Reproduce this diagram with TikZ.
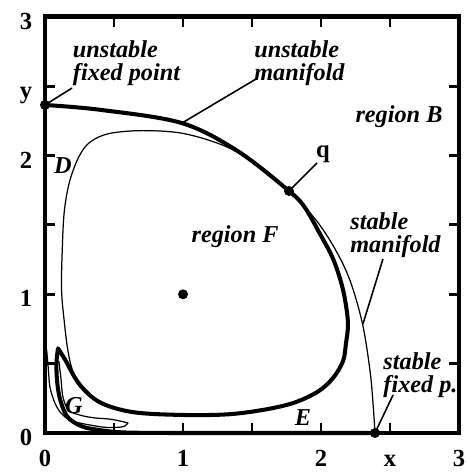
\documentclass[tikz,border=0pt]{standalone}
\usepackage{fontspec}
\setmainfont{Liberation Serif}
\usepackage{tikz}
\usetikzlibrary{positioning}

\begin{document}
\begin{tikzpicture}[
    x=2.76cm, y=2.774cm,
    frame/.style={line width=2.8pt},
    tickmark/.style={line width=1.7pt},
    heavy/.style={line width=2.3pt, line join=round, line cap=round},
    thin/.style={line width=0.7pt},
    lead/.style={line width=0.9pt},
    dot/.style={circle, fill=black, inner sep=0pt, minimum size=2mm},
    num/.style={font=\fontsize{14}{14}\selectfont\bfseries, inner sep=0pt},
    lbl/.style={font=\fontsize{13.8}{13.2}\selectfont\bfseries\itshape, inner sep=0pt, align=left},
  ]
  \useasboundingbox (-0.3261,-0.2812) rectangle (3.0652,3.1218);

  % ===== frame and ticks =====
  \draw[frame] (0,0) rectangle (3,3);
  \foreach \t in {0.5,1,1.5,2,2.5} {
    \draw[tickmark] (\t,0) -- ++(0,0.072);
    \draw[tickmark] (\t,3) -- ++(0,-0.072);
    \draw[tickmark] (0,\t) -- ++(0.072,0);
    \draw[tickmark] (3,\t) -- ++(-0.072,0);
  }
  \foreach \t/\s in {0/0,1/1,2/2,2.5/y,3/3}
    \node[num, anchor=base] (ly\s) at (-0.138, \t-0.09) {\s};
  \foreach \t/\s in {0/0,1/1,2/2,2.5/x,3/3}
    \node[num, anchor=base] (lx\s) at (\t, -0.245) {\s};

  % ===== unstable manifold (heavy) =====
  \draw[heavy] plot[smooth, tension=0.55] coordinates {(0,2.365) (0.4,2.33) (0.99,2.235) (1.40,2.03) (1.768,1.745) (1.88,1.63) (1.99,1.44) (2.09,1.25) (2.16,1.03) (2.195,0.8) (2.18,0.64) (2.16,0.52) (2.09,0.40) (1.98,0.30) (1.81,0.22) (1.6,0.17) (1.33,0.135) (1.0,0.13) (0.64,0.15) (0.40,0.22) (0.25,0.35) (0.145,0.53) (0.094,0.61)}
    -- plot[smooth, tension=0.55] coordinates {(0.094,0.61) (0.083,0.5) (0.088,0.37) (0.11,0.24) (0.16,0.12) (0.25,0.055) (0.35,0.028) (0.57,0.004) (1.0,0)} -- (2.391,0);

  % ===== stable manifold (thin) =====
  \draw[thin] plot[smooth, tension=0.55] coordinates {(2.391,0) (2.378,0.2) (2.355,0.45) (2.30,0.79) (2.21,1.10) (2.10,1.33) (1.96,1.54) (1.768,1.745) (1.55,1.93) (1.30,2.07) (1.0,2.16) (0.71,2.18) (0.47,2.16) (0.33,2.1) (0.25,2.0) (0.18,1.82) (0.14,1.6) (0.125,1.32) (0.12,1.03) (0.14,0.8) (0.165,0.6) (0.2,0.45) (0.26,0.35) (0.32,0.29)};
  \draw[thin] plot[smooth, tension=0.55] coordinates {(0.10,0.52) (0.115,0.40) (0.13,0.26) (0.17,0.165) (0.25,0.13) (0.35,0.11) (0.47,0.10) (0.56,0.083) (0.60,0.072)}
    -- plot[smooth, tension=0.55] coordinates {(0.60,0.072) (0.565,0.045) (0.45,0.04) (0.34,0.055) (0.22,0.08) (0.145,0.115) (0.11,0.15) (0.07,0.22) (0.036,0.33) (0.025,0.45) (0.012,0.6)};

  % ===== points =====
  \node[dot] (ufp) at (0,2.365) {};
  \node[dot] (q) at (1.768,1.745) {};
  \node[dot] (sfp) at (2.391,0) {};
  \node[dot] (ctr) at (1,1) {};

  % ===== labels =====
  \node[lbl, anchor=north west] (lufp) at (0.2,2.834) {unstable\\fixed point};
  \node[lbl, anchor=north west] (lum) at (1.514,2.834) {unstable\\manifold};
  \node[lbl, anchor=base] (lB) at (2.565,2.242) {region B};
  \node[num, anchor=base] (lq) at (2.014,1.983) {q};
  \node[lbl, anchor=north west] (lsm) at (2.21,1.593) {stable\\manifold};
  \node[lbl, anchor=base] (lF) at (1.377,1.377) {region F};
  \node[lbl] (lD) at (0.13,1.925) {D};
  \node[lbl] (lG) at (0.21,0.20) {G};
  \node[lbl] (lE) at (1.87,0.108) {E};
  \node[lbl, anchor=north west] (lsfp) at (2.45,0.584) {stable\\fixed p.};

  % leaders
  \coordinate (a1) at (0.196,2.487);
  \coordinate (a2) at (1.529,2.552);
  \coordinate (m2) at (0.993,2.235);
  \coordinate (a3) at (1.971,1.947);
  \coordinate (a4) at (2.449,1.255);
  \coordinate (m4) at (2.304,0.786);
  \coordinate (a5) at (2.522,0.274);
  \draw[lead] (a1) -- (ufp.center);
  \draw[lead] (a2) -- (m2);
  \draw[lead] (a3) -- (q.center);
  \draw[lead] (a4) -- (m4);
  \draw[lead] (a5) -- (sfp.center);

\end{tikzpicture}
\end{document}
